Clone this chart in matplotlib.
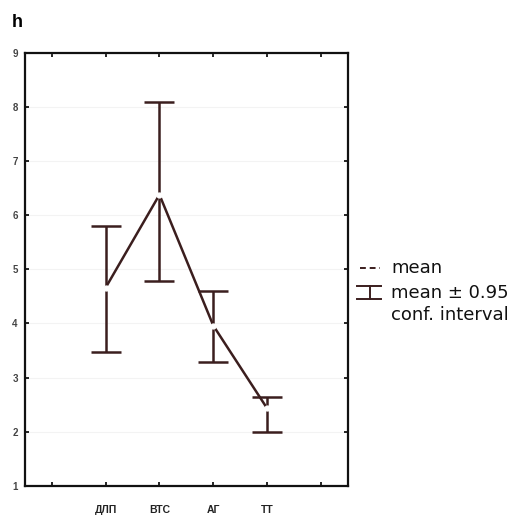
import matplotlib
matplotlib.use("Agg")
import matplotlib.pyplot as plt
from matplotlib.lines import Line2D
import numpy as np

plt.rcParams['font.family'] = ['Liberation Sans', 'DejaVu Sans']

# данные
groups = ['ДЛП', 'ВТС', 'АГ', 'ТТ']
means = [4.66, 6.38, 3.96, 2.43]
upper = [5.80, 8.10, 4.60, 2.65]
lower = [3.48, 4.78, 3.28, 1.99]
y_ticks = [1, 2, 3, 4, 5, 6, 7, 8, 9]

col = '#3b1e1e'

fig = plt.figure(figsize=(5.17, 5.19), dpi=100)
ax = fig.add_axes([0.048, 0.064, 0.625, 0.834])

x = np.arange(1, len(groups) + 1)
m = np.array(means)
err = [m - np.array(lower), np.array(upper) - m]

ax.errorbar(x, m, yerr=err, fmt='none', ecolor=col, elinewidth=1.8,
            capsize=10.5, capthick=1.8, zorder=2)
ax.plot(x, m, color=col, lw=1.8, zorder=3)
ax.plot(x, m, 'o', ms=3.5, mfc='white', mec='white', zorder=4)

ax.set_xlim(-0.5, 5.5)
ax.set_ylim(1, 9)
ax.set_xticks(range(0, 6))
ax.set_xticklabels([''] + groups + [''], fontsize=7.5, fontweight='bold',
                   color='#222222')
ax.set_yticks(y_ticks)
ax.set_yticklabels([str(v) for v in y_ticks], fontsize=7, fontweight='bold',
                   color='#444444')
ax.tick_params(direction='in', length=3, width=1.2, top=True, right=True)
ax.tick_params(axis='x', pad=14)
ax.tick_params(axis='y', pad=5)
for s in ax.spines.values():
    s.set_linewidth(1.6)
    s.set_color('#111111')
ax.grid(axis='y', color='#f3f3f3', lw=0.8)
ax.set_axisbelow(True)

fig.text(0.023, 0.957, 'h', fontsize=13, fontweight='bold', va='center')

# легенда
lf = dict(fontsize=13, va='center', family='DejaVu Sans', color='#111111')
fig.add_artist(Line2D([0.696, 0.735], [0.484, 0.484], transform=fig.transFigure,
                      color=col, lw=1.4, ls=(0, (3, 2))))
fig.text(0.757, 0.484, 'mean', **lf)
xc = 0.716
fig.add_artist(Line2D([xc, xc], [0.424, 0.449], transform=fig.transFigure, color=col, lw=1.4))
fig.add_artist(Line2D([0.691, 0.737], [0.449, 0.449], transform=fig.transFigure, color=col, lw=1.4))
fig.add_artist(Line2D([0.691, 0.737], [0.424, 0.424], transform=fig.transFigure, color=col, lw=1.4))
fig.text(0.757, 0.436, 'mean ± 0.95', **lf)
fig.text(0.757, 0.393, 'conf. interval', **lf)

fig.savefig('out.png', dpi=100)
